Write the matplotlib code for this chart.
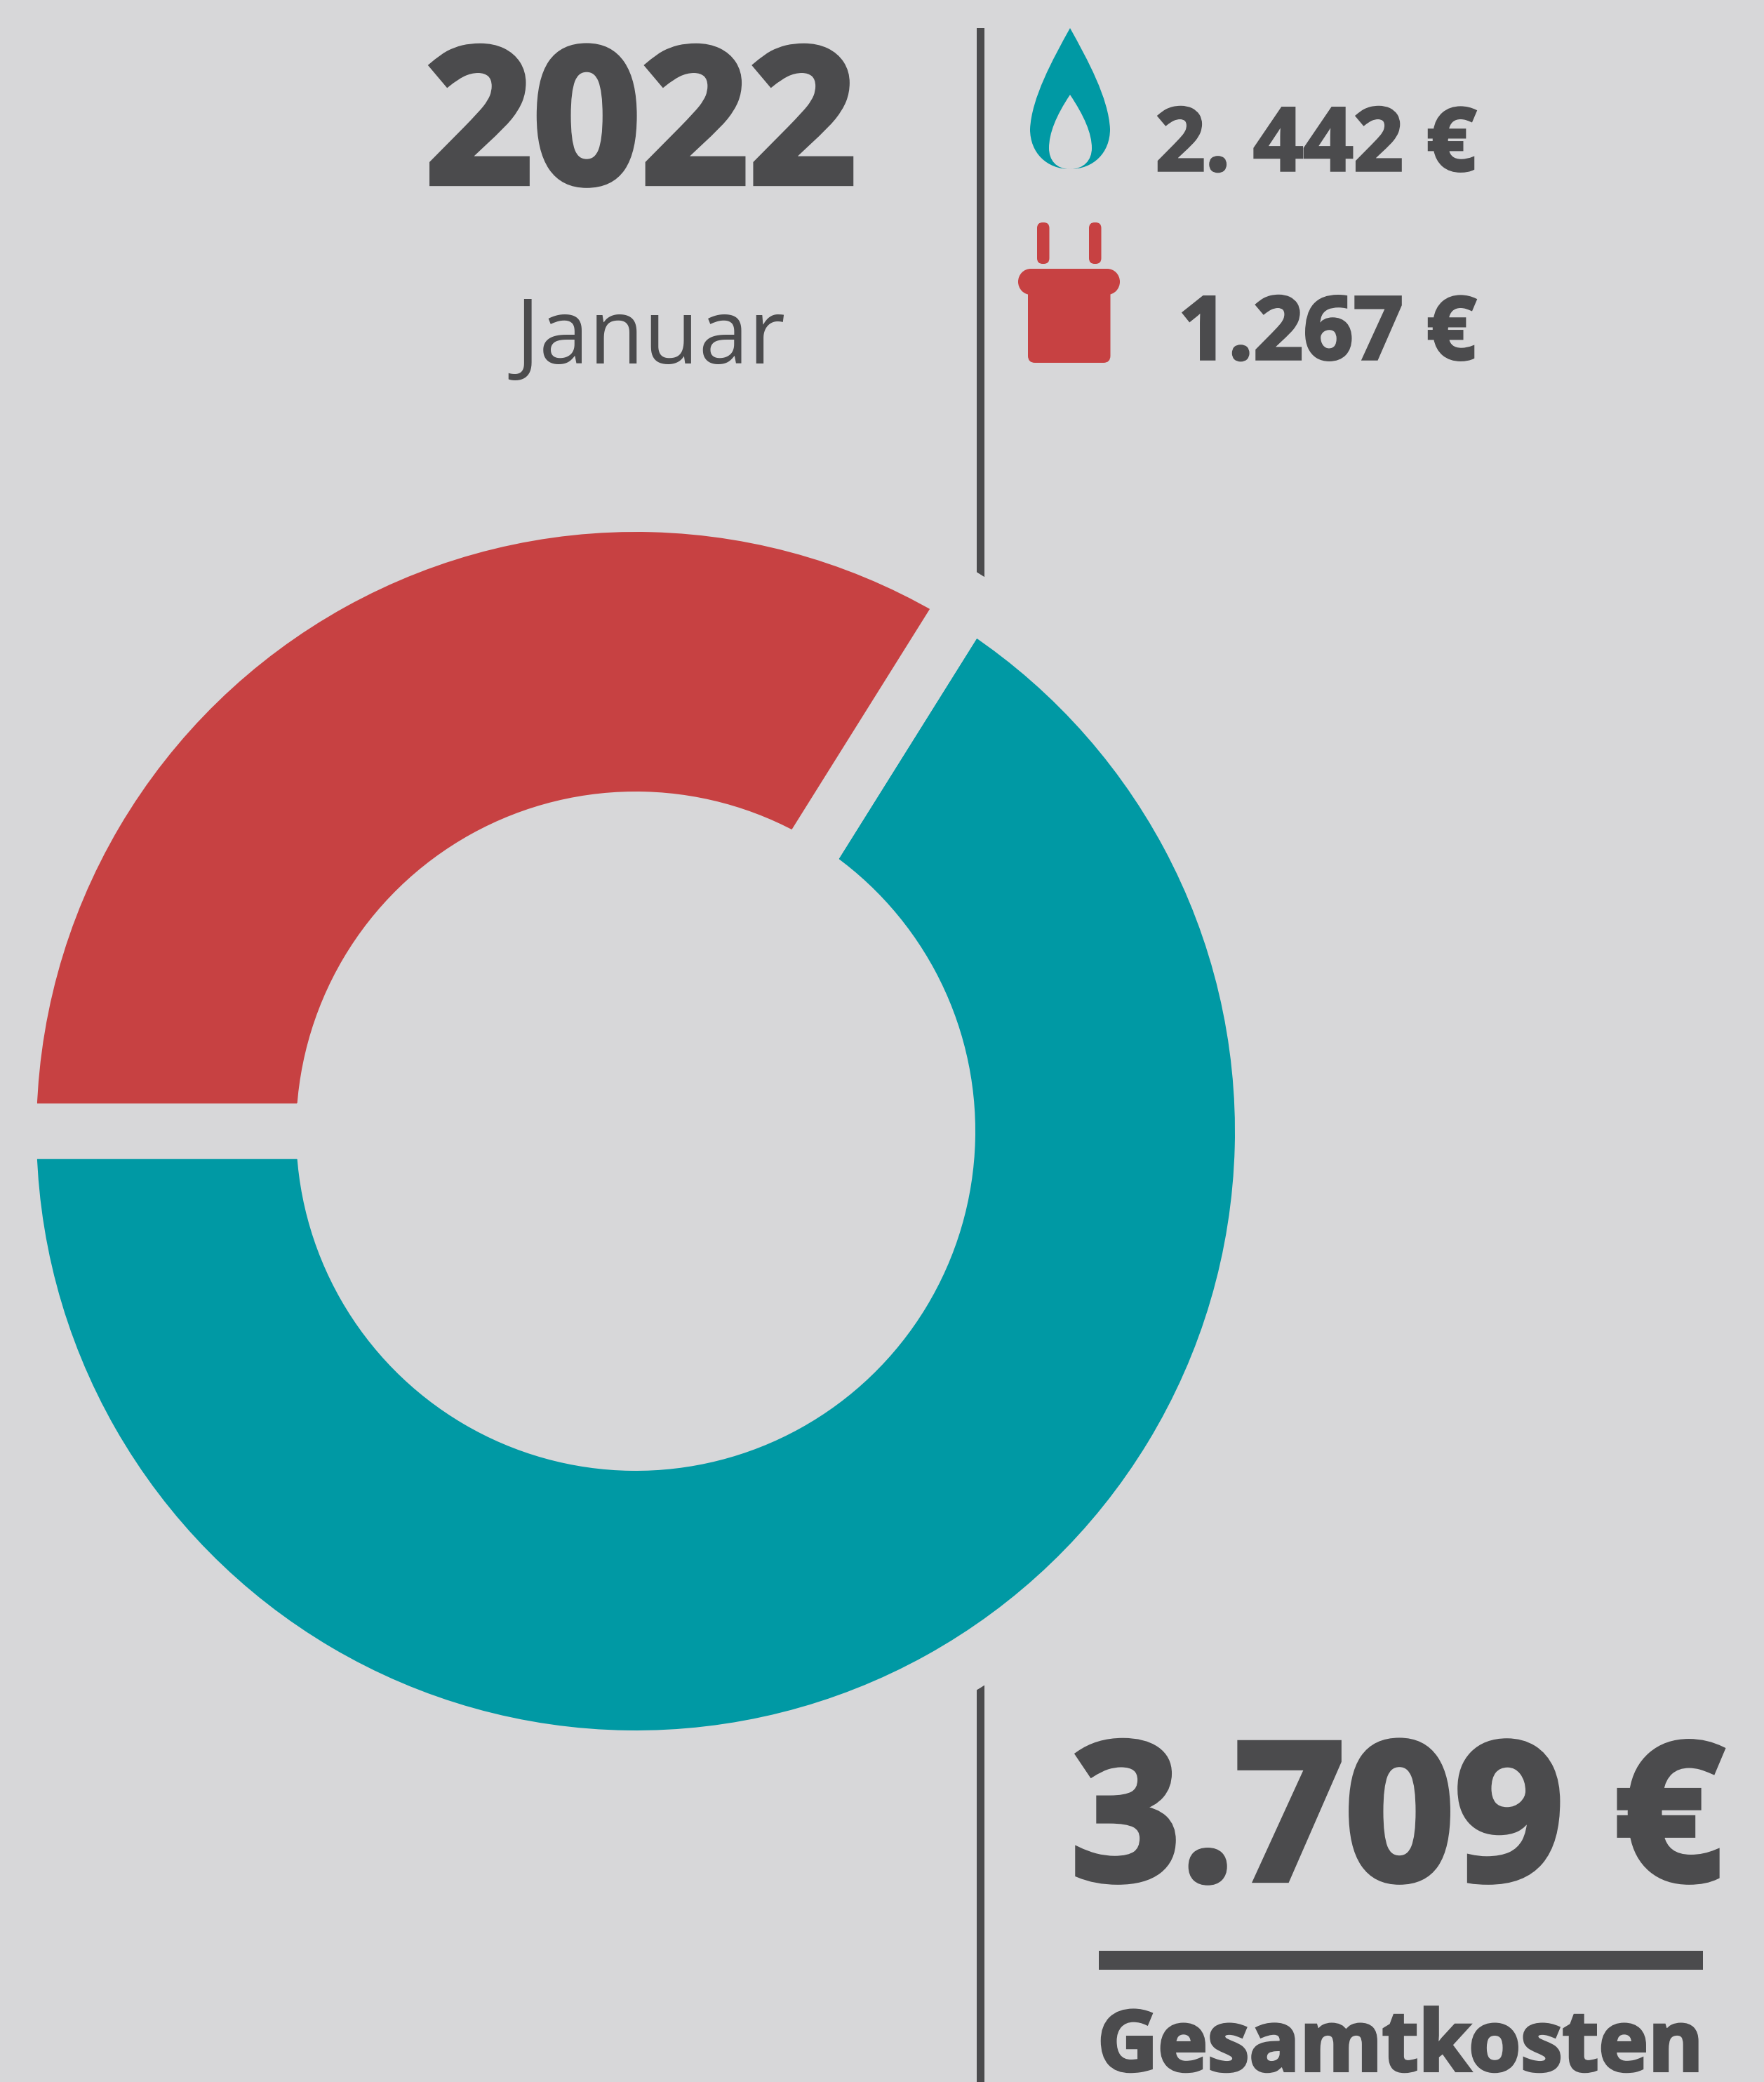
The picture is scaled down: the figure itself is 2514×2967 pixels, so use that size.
import matplotlib
matplotlib.use('Agg')
import matplotlib.pyplot as plt
import matplotlib.patheffects as pe
from matplotlib.patches import Ellipse, FancyBboxPatch, PathPatch, Rectangle
from matplotlib.path import Path

# values
arc_shares = [66.1, 33.9]  # teal / red share as drawn
colors = ['#0099A4', '#C74142']
year = '2022'
month = 'Januar'
gas_label = '2. 442 €'
power_label = '1.267 €'
total_label = '3.709 €'
total_title = 'Gesamtkosten'

W, H = 2514, 2967
bg = '#D7D7D9'
dark = '#4B4B4D'
teal, red = colors
font = 'Open Sans'

fig = plt.figure(figsize=(W / 100, H / 100), dpi=100, facecolor=bg)

# whole figure in pixel coordinates
ax = fig.add_axes([0, 0, 1, 1])
ax.set_xlim(0, W)
ax.set_ylim(H, 0)
ax.axis('off')

# divider, the thick wedge edge cuts it around the donut
ax.add_patch(Rectangle((1392, 40), 11, H - 40, color=dark, lw=0))

# donut
cx, cy, half = 906, 1612, 960
ax2 = fig.add_axes([(cx - half) / W, 1 - (cy + half) / H, 2 * half / W, 2 * half / H], zorder=2)
ax2.patch.set_visible(False)
gap = 79
gap_pt = gap * 72 / 100
ax2.pie(arc_shares, colors=colors, startangle=180, radius=854 + gap / 2, frame=False,
        wedgeprops=dict(width=370 + gap, edgecolor=bg, linewidth=gap_pt, joinstyle='miter'))
ax2.set_xlim(-half, half)
ax2.set_ylim(-half, half)
ax2.set_aspect('equal')


def heavy(x, y, s, size, ha, stroke):
    # the font has no black weight, so thicken the bold one with a stroke
    t = ax.text(x, y, s, fontsize=size, fontweight='bold', family=font, color=dark, ha=ha, va='baseline')
    t.set_path_effects([pe.withStroke(linewidth=stroke, foreground=dark, joinstyle='miter')])


# texts
heavy(913, 261, year, 194, 'center', 6)
ax.text(927, 518, month, fontsize=92, fontweight='normal', family='Open Sans', color=dark, ha='center', va='baseline')
heavy(2104, 243, gas_label, 90, 'right', 2.5)
heavy(2104, 512, power_label, 90, 'right', 2.5)
heavy(2456, 2679, total_label, 197, 'right', 6)
ax.add_patch(Rectangle((1566, 2780), 861, 27, color=dark, lw=0))
heavy(1996, 2951, total_title, 86, 'center', 3)

# flame icon
flame = [
    (Path.MOVETO, (1525, 40)),
    (Path.CURVE4, (1500, 85)), (Path.CURVE4, (1470, 140)), (Path.CURVE4, (1468, 184)),
    (Path.CURVE4, (1468, 218)), (Path.CURVE4, (1492, 241)), (Path.CURVE4, (1525, 241)),
    (Path.CURVE4, (1558, 241)), (Path.CURVE4, (1582, 218)), (Path.CURVE4, (1582, 184)),
    (Path.CURVE4, (1580, 140)), (Path.CURVE4, (1550, 85)), (Path.CURVE4, (1525, 40)),
    (Path.CLOSEPOLY, (1525, 40)),
    (Path.MOVETO, (1525, 135)),
    (Path.CURVE4, (1545, 165)), (Path.CURVE4, (1556, 190)), (Path.CURVE4, (1556, 211)),
    (Path.CURVE4, (1556, 228)), (Path.CURVE4, (1545, 241)), (Path.CURVE4, (1525, 241)),
    (Path.CURVE4, (1505, 241)), (Path.CURVE4, (1495, 228)), (Path.CURVE4, (1495, 211)),
    (Path.CURVE4, (1495, 190)), (Path.CURVE4, (1505, 165)), (Path.CURVE4, (1525, 135)),
    (Path.CLOSEPOLY, (1525, 135)),
]
codes, verts = zip(*flame)
ax.add_patch(PathPatch(Path(verts, codes), facecolor=teal, edgecolor='none'))

# plug icon
for x in (1478, 1552):
    ax.add_patch(FancyBboxPatch((x + 8, 325), 1.5, 43, boxstyle='round,pad=8', color=red, lw=0))
ax.add_patch(Rectangle((1469, 383), 109, 37, color=red, lw=0))
ax.add_patch(Ellipse((1469, 401.5), 36, 37, color=red, lw=0))
ax.add_patch(Ellipse((1578, 401.5), 36, 37, color=red, lw=0))
ax.add_patch(FancyBboxPatch((1475, 400), 97.5, 107, boxstyle='round,pad=10', color=red, lw=0))

fig.savefig('out.png', dpi=100, facecolor=bg)
